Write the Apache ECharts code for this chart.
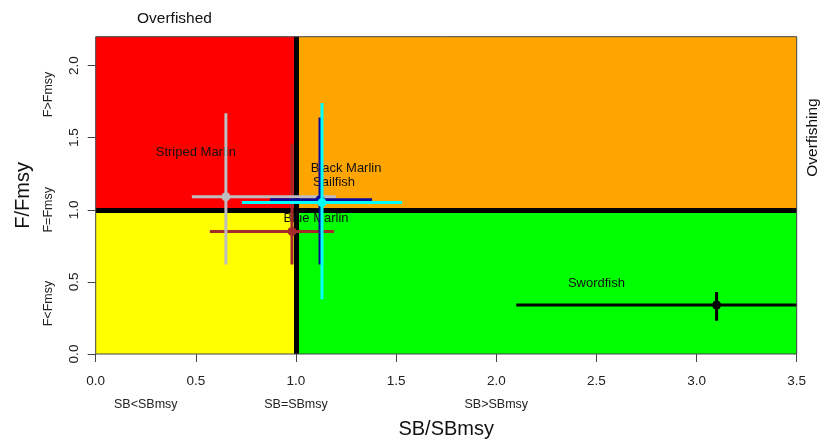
<!DOCTYPE html>
<html>
<head>
<meta charset="utf-8">
<script src="https://cdn.jsdelivr.net/npm/echarts@6/dist/echarts.min.js"></script>
<style>
html,body{margin:0;padding:0;background:#fff;}
#chart{width:824px;height:440px;}
</style>
</head>
<body>
<div id="chart"></div>
<script>
// ---- data (drawing order: first drawn at bottom) ----
const species = ['Blue Marlin', 'Striped Marlin', 'Black Marlin', 'Sailfish', 'Swordfish'];
const sbValues = [0.98, 0.65, 1.12, 1.13, 3.10];
const fValues  = [0.85, 1.09, 1.07, 1.05, 0.34];
const sbLow    = [0.57, 0.48, 0.87, 0.73, 2.10];
const sbHigh   = [1.19, 1.20, 1.38, 1.53, 4.10];
const fLow     = [0.62, 0.62, 0.62, 0.38, 0.23];
const fHigh    = [1.46, 1.67, 1.64, 1.74, 0.43];
const speciesColors = ['#a52a2a', '#bebebe', '#0a0a9a', '#00ffff', '#000000'];
const labelX   = [1.10, 0.50, 1.25, 1.19, 2.50];
const labelY   = [0.94, 1.40, 1.29, 1.19, 0.49];

const xRange = [0, 3.5];
const yRange = [0, 2.2];
const refPoint = [1, 1];
const xTicks = [0, 0.5, 1, 1.5, 2, 2.5, 3, 3.5];
const yTicks = [0, 0.5, 1, 1.5, 2];
const xStatusValues = [0.25, 1, 2];
const xStatusLabels = ['SB<SBmsy', 'SB=SBmsy', 'SB>SBmsy'];
const yStatusValues = [0.35, 1, 1.8];
const yStatusLabels = ['F<Fmsy', 'F=Fmsy', 'F>Fmsy'];

const FONT = 'Liberation Sans, Arial, Helvetica, sans-serif';

const chart = echarts.init(document.getElementById('chart'), null, {renderer: 'canvas'});

const barData = species.map((s, i) => ({
  name: s,
  value: [sbValues[i], fValues[i], sbLow[i], sbHigh[i], fLow[i], fHigh[i]]
}));
const labelData = species.map((s, i) => ({name: s, value: [labelX[i], labelY[i]]}));

function statusFormatter(values, labels) {
  return function (v) {
    for (let i = 0; i < values.length; i++) {
      if (Math.abs(v - values[i]) < 1e-6) return labels[i];
    }
    return '';
  };
}

const option = {
  backgroundColor: '#ffffff',
  animation: false,
  textStyle: {fontFamily: FONT},
  grid: {
    left: 95.7, top: 36.7, right: 27.3, bottom: 86,
    containLabel: false, outerBoundsMode: 'none',
    show: true, borderColor: '#444', borderWidth: 1, backgroundColor: 'transparent',
    z: 10
  },
  xAxis: [
    {
      type: 'value', min: xRange[0], max: xRange[1], interval: 0.5,
      axisLine: {show: false},
      splitLine: {show: false},
      axisTick: {show: true, length: 8, inside: false, lineStyle: {color: '#444', width: 1}, customValues: xTicks},
      axisLabel: {color: '#222', fontSize: 13.5, margin: 20, fontFamily: FONT,
        customValues: xTicks, formatter: v => v.toFixed(1)},
      name: 'SB/SBmsy', nameLocation: 'middle', nameGap: 65,
      nameTextStyle: {fontSize: 20, color: '#111', fontFamily: FONT}
    },
    {
      type: 'value', min: xRange[0], max: xRange[1], position: 'bottom',
      axisLine: {show: false}, splitLine: {show: false}, axisTick: {show: false},
      axisLabel: {color: '#222', fontSize: 12.5, margin: 44, fontFamily: FONT,
        customValues: xStatusValues, formatter: statusFormatter(xStatusValues, xStatusLabels)}
    }
  ],
  yAxis: [
    {
      type: 'value', min: yRange[0], max: yRange[1], interval: 0.5,
      axisLine: {show: false},
      splitLine: {show: false},
      axisTick: {show: true, length: 8, inside: false, lineStyle: {color: '#444', width: 1}, customValues: yTicks},
      axisLabel: {color: '#222', fontSize: 13.5, margin: 14.5, rotate: 90, fontFamily: FONT,
        customValues: yTicks, formatter: v => v.toFixed(1)},
      name: 'F/Fmsy', nameLocation: 'middle', nameGap: 62, nameRotate: 90,
      nameTextStyle: {fontSize: 20, color: '#111', fontFamily: FONT}
    },
    {
      type: 'value', min: yRange[0], max: yRange[1], position: 'left',
      axisLine: {show: false}, splitLine: {show: false}, axisTick: {show: false},
      axisLabel: {color: '#222', fontSize: 12.5, margin: 41, rotate: 90, fontFamily: FONT,
        customValues: yStatusValues, formatter: statusFormatter(yStatusValues, yStatusLabels)}
    }
  ],
  graphic: [
    {type: 'text', left: 137, top: 11, style: {text: 'Overfished', fontSize: 15.5, fill: '#111', fontFamily: FONT}},
    {type: 'text', x: 821, y: 137.5, rotation: Math.PI / 2,
      style: {text: 'Overfishing', fontSize: 15.5, fill: '#111', fontFamily: FONT, align: 'center', verticalAlign: 'bottom'}}
  ],
  series: [
    {
      type: 'line', data: [], silent: true, z: 1,
      markArea: {
        silent: true,
        data: [
          [{xAxis: xRange[0], yAxis: refPoint[1], itemStyle: {color: '#ff0000'}}, {xAxis: refPoint[0], yAxis: yRange[1]}],
          [{xAxis: refPoint[0], yAxis: refPoint[1], itemStyle: {color: '#ffa500'}}, {xAxis: xRange[1], yAxis: yRange[1]}],
          [{xAxis: xRange[0], yAxis: yRange[0], itemStyle: {color: '#ffff00'}}, {xAxis: refPoint[0], yAxis: refPoint[1]}],
          [{xAxis: refPoint[0], yAxis: yRange[0], itemStyle: {color: '#00ff00'}}, {xAxis: xRange[1], yAxis: refPoint[1]}]
        ]
      },
      markLine: {
        silent: true, symbol: 'none',
        label: {show: false},
        lineStyle: {color: '#000', width: 5, type: 'solid'},
        data: [{xAxis: refPoint[0]}, {yAxis: refPoint[1]}]
      }
    },
    {
      type: 'scatter', z: 3, silent: true,
      symbolSize: 0, itemStyle: {color: 'rgba(0,0,0,0)'},
      data: labelData,
      label: {show: true, position: 'inside', formatter: p => p.name,
        fontSize: 13, color: '#111', fontFamily: FONT, opacity: 1}
    },
    {
      type: 'custom', z: 5, clip: true, silent: true,
      data: barData,
      renderItem: function (params, api) {
        const x = api.value(0), y = api.value(1);
        const xl = api.value(2), xh = api.value(3), yl = api.value(4), yh = api.value(5);
        const c = api.coord([x, y]);
        const a = api.coord([xl, y]), b = api.coord([xh, y]);
        const d = api.coord([x, yl]), e = api.coord([x, yh]);
        const col = speciesColors[params.dataIndex];
        return {
          type: 'group',
          children: [
            {type: 'line', shape: {x1: a[0], y1: a[1], x2: b[0], y2: b[1]}, style: {stroke: col, lineWidth: 3}},
            {type: 'line', shape: {x1: d[0], y1: d[1], x2: e[0], y2: e[1]}, style: {stroke: col, lineWidth: 3}},
            {type: 'circle', shape: {cx: c[0], cy: c[1], r: 4.5}, style: {fill: col}}
          ]
        };
      }
    }
  ]
};
chart.setOption(option);
</script>
</body>
</html>
